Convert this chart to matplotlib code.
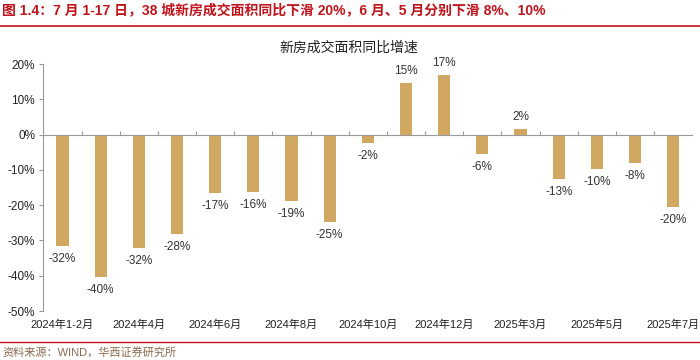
import numpy as np
import matplotlib.pyplot as plt
import matplotlib.transforms as mtransforms

plt.rcParams['font.family'] = ['Liberation Sans', 'Noto Sans CJK SC', 'DejaVu Sans']

# monthly year-on-year growth of new-home transaction area, 38 cities (%)
months = ['2024年1-2月', '2024年3月', '2024年4月', '2024年5月', '2024年6月', '2024年7月',
          '2024年8月', '2024年9月', '2024年10月', '2024年11月', '2024年12月',
          '2025年1-2月', '2025年3月', '2025年4月', '2025年5月', '2025年6月', '2025年7月']
values = [-31.5, -40.3, -32.1, -28.2, -16.6, -16.2, -18.8, -24.8, -2.3, 14.7, 17.0,
          -5.6, 1.6, -12.6, -9.7, -8.0, -20.4]
labels = ['-32%', '-40%', '-32%', '-28%', '-17%', '-16%', '-19%', '-25%', '-2%', '15%', '17%',
          '-6%', '2%', '-13%', '-10%', '-8%', '-20%']

bar_color = '#D1A862'
red = '#C0141C'

fig = plt.figure(figsize=(7, 3.6), dpi=100)
ax = fig.add_axes([0.062, 0.136, 0.927, 0.686])

x = np.arange(len(months))
ax.bar(x, values, width=0.32, color=bar_color, zorder=2)

for xi, v, lab in zip(x, values, labels):
    if v >= 0:
        ax.annotate(lab, (xi, v), xytext=(0, 4), textcoords='offset points',
                    ha='center', va='bottom', fontsize=8.5, color='#333333')
    else:
        ax.annotate(lab, (xi, v), xytext=(0, -5), textcoords='offset points',
                    ha='center', va='top', fontsize=8.5, color='#333333')

ax.set_xlim(-0.5, len(months) - 0.5)
ax.set_ylim(-50, 20)
ax.set_yticks(np.arange(-50, 21, 10))
ax.set_yticklabels([f'{t}%' for t in range(-50, 21, 10)], fontsize=8.5, color='#222222')

for s in ['top', 'right']:
    ax.spines[s].set_visible(False)
ax.spines['left'].set_color('#999999')
ax.spines['bottom'].set_position(('data', 0))
ax.spines['bottom'].set_color('#999999')
ax.tick_params(axis='y', length=3, color='#999999', pad=3)

# category boundary ticks on the zero line, labels at the bottom
ax.set_xticks(np.arange(0.5, len(months) - 0.5, 1))
ax.set_xticklabels([])
ax.tick_params(axis='x', direction='in', length=3, color='#999999')
trans = mtransforms.blended_transform_factory(ax.transData, ax.transAxes)
for i in range(0, len(months), 2):
    ax.text(x[i], -0.035, months[i], transform=trans, ha='center', va='top',
            fontsize=8, color='#222222')

ax.text(0.47, 1.065, '新房成交面积同比增速', transform=ax.transAxes, ha='center', va='center',
        fontsize=10, color='#222222', family=['Noto Sans CJK SC'])

fig.text(0.003, 0.972, '图 1.4：7 月 1-17 日，38 城新房成交面积同比下滑 20%，6 月、5 月分别下滑 8%、10%',
         ha='left', va='center', fontsize=10, color=red, fontweight='bold')
fig.add_artist(plt.Line2D([0, 1], [0.928, 0.928], color=red, lw=1.2))
fig.add_artist(plt.Line2D([0, 1], [0.05, 0.05], color=red, lw=1.0))
fig.text(0.003, 0.022, '资料来源：WIND，华西证券研究所', ha='left', va='center',
         fontsize=8, color='#8C6A50')

fig.savefig('out.png', dpi=100)
